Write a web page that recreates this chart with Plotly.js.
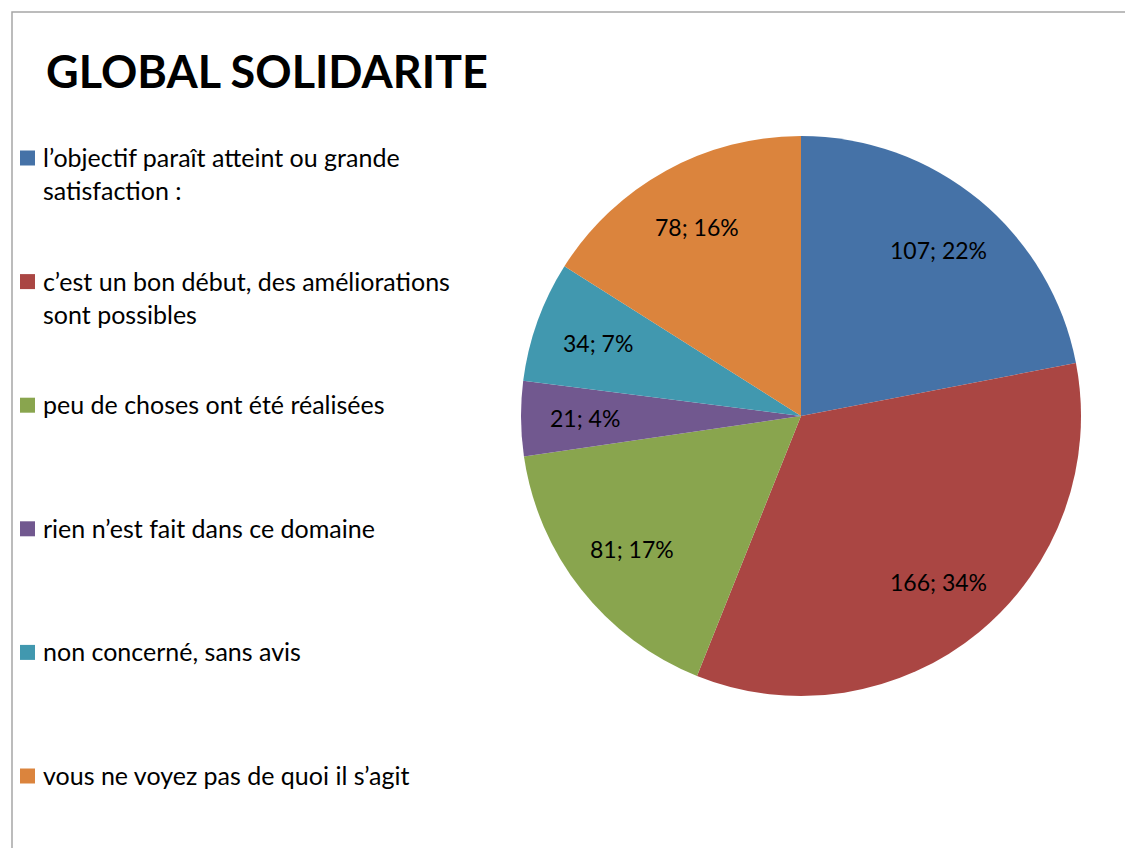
<!DOCTYPE html>
<html>
<head>
<meta charset="utf-8">
<script src="https://cdn.plot.ly/plotly-3.0.1.min.js"></script>
<style>html,body{margin:0;padding:0;background:#fff;}#chart{width:1125px;height:848px;}</style>
</head>
<body>
<div id="chart"></div>
<script>
var categories = [
  "l\u2019objectif paraît atteint ou grande<br>satisfaction :",
  "c\u2019est un bon début, des améliorations<br>sont possibles",
  "peu de choses ont été réalisées",
  "rien n\u2019est fait dans ce domaine",
  "non concerné, sans avis",
  "vous ne voyez pas de quoi il s\u2019agit"
];
var values = [107, 166, 81, 21, 34, 78];
var colors = ["#4572A7", "#AA4643", "#89A54E", "#71588F", "#4198AF", "#DB843D"];
var titleText = "GLOBAL SOLIDARITE";

var W = 1125, H = 848;
function px(x){ return x / W; }
function py(y){ return 1 - y / H; }

var FONT = "Lato, 'Open Sans', sans-serif";

// pie geometry (paper fractions)
var dom = { x: [px(521), px(1081)], y: [py(696), py(136)] };

var trace = {
  type: "pie",
  labels: categories,
  values: values,
  sort: false,
  direction: "clockwise",
  rotation: 0,
  marker: { colors: colors, line: { width: 0 } },
  textinfo: "none",
  hoverinfo: "label+value+percent",
  showlegend: false,
  domain: dom
};

var shapes = [{
  type: "rect", xref: "paper", yref: "paper",
  x0: px(12), x1: 1.05, y0: -0.05, y1: py(12),
  line: { color: "#a6a6a6", width: 1.5 }, fillcolor: "rgba(0,0,0,0)"
}];
var annotations = [{
  xref: "paper", yref: "paper", x: px(44), y: py(71),
  xanchor: "left", yanchor: "middle", showarrow: false,
  text: "<b>" + titleText + "</b>",
  font: { family: FONT, size: 45, color: "#000" }
}];

// data labels: value; percent, placed along each slice's mid-angle
var total = values.reduce(function(a, b){ return a + b; }, 0);
var cx = (dom.x[0] + dom.x[1]) / 2 * W;
var cy = (1 - (dom.y[0] + dom.y[1]) / 2) * H;
var R = (dom.x[1] - dom.x[0]) * W / 2;
var cum = 0;
for (var k = 0; k < values.length; k++) {
  var mid = (cum + values[k] / 2) / total * 2 * Math.PI;
  cum += values[k];
  var lr = R * 0.77;
  var lx = cx + lr * Math.sin(mid);
  var ly = cy - lr * Math.cos(mid);
  annotations.push({
    xref: "paper", yref: "paper", x: px(lx), y: py(ly),
    xanchor: "center", yanchor: "middle", showarrow: false,
    text: values[k] + "; " + Math.round(values[k] / total * 100) + "%",
    font: { family: FONT, size: 23, color: "#000" }
  });
}

// legend (left)
var legTop = 158, legGap = 123.6, sq = 15;
for (var i = 0; i < categories.length; i++) {
  var yc = legTop + i * legGap;
  shapes.push({
    type: "rect", xref: "paper", yref: "paper",
    x0: px(20), x1: px(20 + sq), y0: py(yc + sq / 2), y1: py(yc - sq / 2),
    line: { width: 0 }, fillcolor: colors[i]
  });
  annotations.push({
    xref: "paper", yref: "paper", x: px(41), y: py(yc - 18),
    xanchor: "left", yanchor: "top", align: "left", showarrow: false,
    text: categories[i],
    font: { family: FONT, size: 25, color: "#000" }
  });
}

var layout = {
  width: W, height: H,
  margin: { l: 0, r: 0, t: 0, b: 0 },
  paper_bgcolor: "#fff",
  showlegend: false,
  shapes: shapes,
  annotations: annotations
};

Plotly.newPlot("chart", [trace], layout, { displayModeBar: false, staticPlot: true });
</script>
</body>
</html>
